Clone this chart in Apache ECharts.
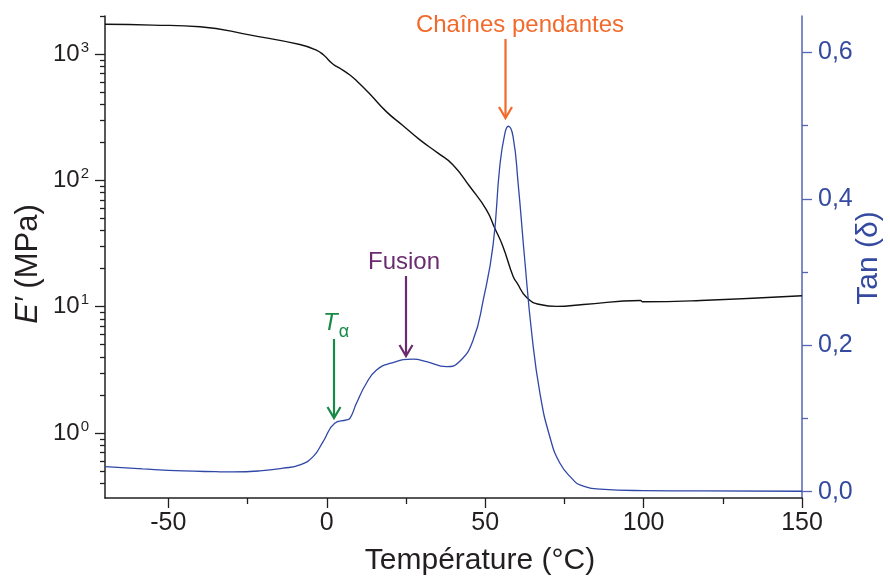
<!DOCTYPE html>
<html>
<head>
<meta charset="utf-8">
<script src="https://cdn.jsdelivr.net/npm/echarts@6/dist/echarts.min.js"></script>
<style>html,body{margin:0;padding:0;background:#fff}#c{width:890px;height:580px}</style>
</head>
<body>
<div id="c"></div>
<script>
// Temperature (°C) and storage modulus E' (MPa)
const modulusTemp = [-70,-55,-40,-24,-8.5,-3.3,-1,1.9,4.5,7.3,9.8,13.6,18.8,24,29.4,35,39.8,45.2,50.4,53,55.6,58.8,60,63.1,67.3,72.6,81,99,99.7,118,150];
const modulusE    = [1720,1695,1645,1410,1190,1075,982,834,761,682,601,483,350,272,209,165,133,89,58.5,42,30,17.4,15.5,11.8,10.4,10.05,10.4,11.2,10.95,11.2,12.2];
// Temperature (°C) and tan delta
const tanTemp  = [-70,-58.1,-45.4,-35,-29.6,-21.2,-13.8,-8.5,-4.3,-1.2,2.5,6.2,7.3,9.4,12.5,15.7,19.9,27.3,31.5,37.8,42,46.2,49.4,52.5,54.6,56.2,57.3,58.8,60.4,62.5,64.7,67.3,70.4,73.6,77.8,79.9,86.2,99.9,117.7,150];
const tanDelta = [0.0341,0.031,0.0283,0.0272,0.0269,0.0283,0.032,0.0365,0.0478,0.068,0.0934,0.098,0.100,0.121,0.148,0.166,0.175,0.181,0.1775,0.1707,0.178,0.207,0.262,0.337,0.444,0.489,0.499,0.485,0.421,0.316,0.216,0.134,0.075,0.0388,0.016,0.0091,0.0033,0.0014,0.001,0.0005];
// Tick values
const xMajor = [-50,0,50,100,150];
const xMinor = [-25,25,75,125];
const eMajor = [1,10,100,1000];
const eMinor = [0.4,0.5,0.6,0.7,0.8,0.9,2,3,4,5,6,7,8,9,20,30,40,50,60,70,80,90,200,300,400,500,600,700,800,900,2000];
const tanMajor = [0,0.2,0.4,0.6];
const tanMinor = [0.1,0.3,0.5];

const FONT = '"Liberation Sans", Arial, sans-serif';
const INK = '#231f20';
const BLUE_AXIS = '#5366b3';
const BLUE_TEXT = '#3449a0';
const BLUE_LINE = '#2f47a6';

const chart = echarts.init(document.getElementById('c'), null, {renderer:'canvas'});

function zip(a,b){return a.map((v,i)=>[v,b[i]]);}

const option = {
  animation:false,
  backgroundColor:'#fff',
  textStyle:{fontFamily:FONT},
  grid:{left:105,right:88,top:16,bottom:82,containLabel:false},
  xAxis:[
    {type:'value',min:-70,max:150,position:'bottom',
     axisLine:{show:true,onZero:false,lineStyle:{color:INK,width:1.5}},
     axisTick:{show:true,inside:false,length:10,customValues:xMajor,lineStyle:{color:INK,width:1.3}},
     axisLabel:{show:true,customValues:xMajor,margin:13,fontSize:25,color:INK,fontFamily:FONT},
     splitLine:{show:false}},
    {type:'value',min:-70,max:150,position:'bottom',
     axisLine:{show:false,onZero:false},
     axisTick:{show:true,inside:false,length:6,customValues:xMinor,lineStyle:{color:INK,width:1.3}},
     axisLabel:{show:false},splitLine:{show:false}}
  ],
  yAxis:[
    {type:'log',logBase:10,min:0.306,max:2000,position:'left',
     axisLine:{show:true,onZero:false,lineStyle:{color:INK,width:1.5}},
     axisTick:{show:true,inside:false,length:10,customValues:eMajor,lineStyle:{color:INK,width:1.3}},
     axisLabel:{show:true,customValues:eMajor,margin:16,color:INK,fontFamily:FONT,
       formatter:function(v){return '{b|10}{s|'+Math.round(Math.log10(v))+'}';},
       rich:{b:{fontSize:24,color:INK,fontFamily:FONT,lineHeight:28},
             s:{fontSize:15,color:INK,fontFamily:FONT,verticalAlign:'top',lineHeight:15,padding:[0,0,0,1]}}},
     splitLine:{show:false}},
    {type:'log',logBase:10,min:0.306,max:2000,position:'left',
     axisLine:{show:false,onZero:false},
     axisTick:{show:true,inside:false,length:5,customValues:eMinor,lineStyle:{color:INK,width:1.3}},
     axisLabel:{show:false},splitLine:{show:false}},
    {type:'value',min:-0.0087,max:0.6496,position:'right',
     axisLine:{show:true,onZero:false,lineStyle:{color:BLUE_AXIS,width:1.5}},
     axisTick:{show:true,inside:false,length:10,customValues:tanMajor,lineStyle:{color:BLUE_AXIS,width:1.3}},
     axisLabel:{show:true,customValues:tanMajor,margin:16,fontSize:25,color:BLUE_TEXT,fontFamily:FONT,
       formatter:function(v){return v.toFixed(1).replace('.',',');}},
     splitLine:{show:false}},
    {type:'value',min:-0.0087,max:0.6496,position:'right',
     axisLine:{show:false,onZero:false},
     axisTick:{show:true,inside:false,length:6,customValues:tanMinor,lineStyle:{color:BLUE_AXIS,width:1.3}},
     axisLabel:{show:false},splitLine:{show:false}}
  ],
  series:[
    {name:"E'",type:'line',xAxisIndex:0,yAxisIndex:0,data:zip(modulusTemp,modulusE),
     showSymbol:false,smooth:0.5,lineStyle:{color:'#111',width:1.4}},
    {name:'tan',type:'line',xAxisIndex:0,yAxisIndex:2,data:zip(tanTemp,tanDelta),
     showSymbol:false,smooth:0.5,lineStyle:{color:BLUE_LINE,width:1.3}}
  ]
};
chart.setOption(option);

function arrow(x,y1,y2,color){
  return [
    {type:'line',shape:{x1:x,y1:y1,x2:x,y2:y2-1},style:{stroke:color,lineWidth:2.2}},
    {type:'polyline',shape:{points:[[x-6.5,y2-11],[x,y2],[x+6.5,y2-11]]},style:{stroke:color,lineWidth:2.2,fill:null}}
  ];
}
const ORANGE='#f26a2b', PURPLE='#6a2c6f', GREEN='#188a48';
const graphics = [].concat(
  arrow(505.5,39,118,ORANGE),
  arrow(406,276,356,PURPLE),
  arrow(334,339,418,GREEN),
  [
   {type:'text',x:520,y:25,style:{text:'Chaînes pendantes',fill:ORANGE,font:'24px '+FONT,align:'center',verticalAlign:'middle'}},
   {type:'text',x:404,y:262,style:{text:'Fusion',fill:PURPLE,font:'24px '+FONT,align:'center',verticalAlign:'middle'}},
   {type:'text',x:323,y:335,style:{text:'{t|T}{a|α}',align:'left',verticalAlign:'bottom',
      rich:{t:{fontSize:24,fontStyle:'italic',fill:GREEN,fontFamily:FONT,verticalAlign:'bottom'},
            a:{fontSize:18,fill:GREEN,fontFamily:FONT,verticalAlign:'bottom',padding:[0,0,-6,1]}}}},
   {type:'text',x:28,y:264,rotation:Math.PI/2,style:{text:'{i|E′} (MPa)',fill:INK,font:'31px '+FONT,align:'center',verticalAlign:'middle',
      rich:{i:{fontStyle:'italic',fontSize:31,fontFamily:FONT,fill:INK}}}},
   {type:'text',x:869,y:258,rotation:Math.PI/2,style:{text:'Tan (δ)',fill:BLUE_TEXT,font:'30px '+FONT,align:'center',verticalAlign:'middle'}},
   {type:'text',x:480,y:561,style:{text:'Température (°C)',fill:INK,font:'30px '+FONT,align:'center',verticalAlign:'middle'}}
  ]
);
chart.setOption({graphic:graphics});
</script>
</body>
</html>
